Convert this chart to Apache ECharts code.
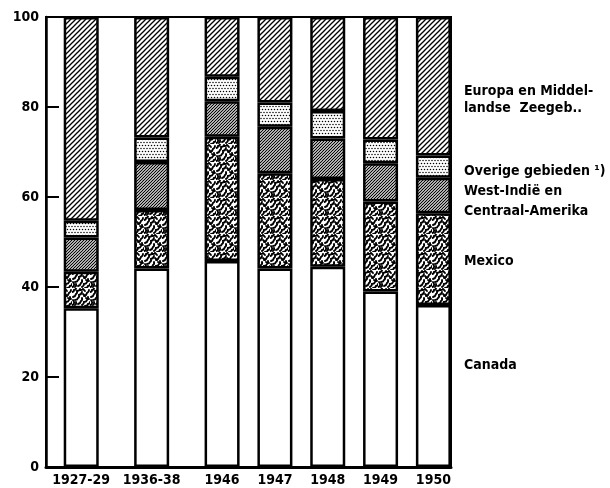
<!DOCTYPE html>
<html><head><meta charset="utf-8">
<script src="https://cdn.jsdelivr.net/npm/echarts@6/dist/echarts.min.js"></script>
<style>html,body{margin:0;padding:0;background:#fff}#c{width:610px;height:488px}</style>
</head><body><div id="c"></div>
<script>
// ---- data ----
const categories = ['1927-29', '1936-38', '1946', '1947', '1948', '1949', '1950'];
const canada     = [35.3, 44.1, 45.8, 44.1, 44.5, 39.0, 36.0];
const mexico     = [8.1, 13.0, 27.6, 21.2, 19.5, 20.0, 20.4];
const westIndie  = [7.6, 10.7, 7.9, 10.3, 9.0, 8.5, 7.9];
const overige    = [3.7, 5.4, 5.4, 5.4, 6.1, 5.3, 4.9];
const europa     = [45.3, 26.8, 13.3, 19.0, 20.9, 27.2, 30.8];
const yTicks     = [0, 20, 40, 60, 80, 100];
const seriesNames = ['Canada', 'Mexico', 'West-Indië en Centraal-Amerika', 'Overige gebieden ¹)', 'Europa en Middellandse Zeegeb.'];

// ---- layout (broken category spacing, as in the original) ----
const slotCount = 24;
const slotOf = [2, 6, 10, 13, 16, 19, 22];
const FONT = "'DejaVu Sans Condensed', 'DejaVu Sans', sans-serif";

function padded(arr) {
  const out = new Array(slotCount).fill(null);
  slotOf.forEach((s, i) => { out[s] = arr[i]; });
  return out;
}
const slotLabels = new Array(slotCount).fill('');
slotOf.forEach((s, i) => { slotLabels[s] = categories[i]; });

// ---- patterns ----
function mk(w, h) { const c = document.createElement('canvas'); c.width = w; c.height = h; return c; }
function hatch(s, lw) {
  const c = mk(s, s), g = c.getContext('2d');
  g.fillStyle = '#fff'; g.fillRect(0, 0, s, s);
  g.strokeStyle = '#000'; g.lineWidth = lw;
  for (const o of [-s, 0, s]) { g.beginPath(); g.moveTo(o - 1, s + 1); g.lineTo(o + s + 1, -1); g.stroke(); }
  return c;
}
function dots() {
  const c = mk(6, 6), g = c.getContext('2d');
  g.fillStyle = '#fff'; g.fillRect(0, 0, 6, 6);
  g.fillStyle = '#000';
  [[1.5, 1.5], [4.5, 1.5], [0, 4.5], [3, 4.5], [6, 4.5]].forEach(p => { g.beginPath(); g.arc(p[0], p[1], 0.75, 0, Math.PI * 2); g.fill(); });
  return c;
}
function squiggle() {
  const W = 18, H = 18, c = mk(W, H), g = c.getContext('2d');
  g.fillStyle = '#fff'; g.fillRect(0, 0, W, H);
  g.strokeStyle = '#000'; g.lineWidth = 1.9; g.lineCap = 'round';
  const worms = [
    [[0,4],[2,2],[4,0]], [[1,9],[4,6],[5,3],[8,1]], [[3,12],[6,10],[7,7],[10,4]],
    [[6,16],[9,13],[10,10]], [[10,17],[12,14],[15,12],[16,9]], [[12,8],[15,5],[17,2]],
    [[0,17],[2,15],[1,12]], [[13,18],[16,16],[18,14]], [[8,2],[11,1],[13,3]],
    [[14,10],[17,11]], [[4,14],[3,17]], [[11,6],[13,8]]
  ];
  worms.forEach(w => {
    g.beginPath(); g.moveTo(w[0][0], w[0][1]);
    for (let i = 1; i < w.length; i++) {
      const p = w[i - 1], q = w[i];
      g.quadraticCurveTo((p[0] + q[0]) / 2 + 1, (p[1] + q[1]) / 2 + 0.8, q[0], q[1]);
    }
    g.stroke();
  });
  return c;
}
const fills = [
  '#ffffff',
  { image: squiggle(), repeat: 'repeat' },
  { image: hatch(3, 1.2), repeat: 'repeat' },
  { image: dots(), repeat: 'repeat' },
  { image: hatch(5, 1.3), repeat: 'repeat' }
];
const values = [canada, mexico, westIndie, overige, europa];

const chart = echarts.init(document.getElementById('c'), null, { renderer: 'canvas' });
chart.setOption({
  animation: false,
  backgroundColor: '#fff',
  grid: { left: 46, right: 159, top: 17, bottom: 21, show: true, borderColor: '#000', borderWidth: 2, backgroundColor: 'transparent' },
  xAxis: {
    type: 'category', data: slotLabels.map((_, i) => String(i)), boundaryGap: false,
    axisLine: { lineStyle: { color: '#000', width: 3 } },
    axisTick: { show: false }, splitLine: { show: false },
    axisLabel: { interval: 0, color: '#000', fontFamily: FONT, fontWeight: 'bold', fontSize: 14, margin: 6,
      formatter: (v, idx) => slotLabels[idx] }
  },
  yAxis: {
    type: 'value', min: yTicks[0], max: yTicks[yTicks.length - 1], interval: 20,
    axisLine: { show: true, lineStyle: { color: '#000', width: 2.5 } },
    axisTick: { show: true, inside: true, length: 13, lineStyle: { color: '#000', width: 2 } },
    splitLine: { show: false },
    axisLabel: { color: '#000', fontFamily: FONT, fontWeight: 'bold', fontSize: 14, margin: 7 }
  },
  series: values.map((v, i) => ({
    name: seriesNames[i], type: 'bar', stack: 'total', barWidth: 35,
    data: padded(v),
    itemStyle: { color: fills[i], borderColor: '#000', borderWidth: 2.5 }
  })),
  graphic: [
    ['Europa en Middel-', 93], ['landse  Zeegeb..', 110],
    ['Overige gebieden ¹)', 173], ['West-Indië en', 193], ['Centraal-Amerika', 213],
    ['Mexico', 263], ['Canada', 367]
  ].map(t => ({
    type: 'text', left: 464, top: t[1] - 9,
    style: { text: t[0], font: 'bold 14px ' + FONT, fill: '#000' }
  }))
});
</script></body></html>
